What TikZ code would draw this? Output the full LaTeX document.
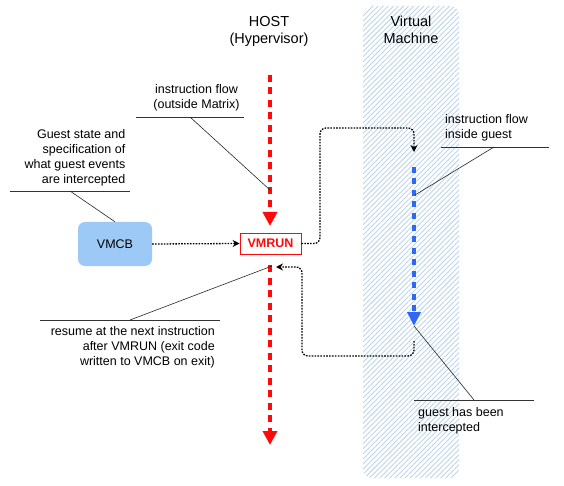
\documentclass[tikz,border=0pt]{standalone}
\usepackage{fontspec}
\setmainfont{Liberation Sans}
\usetikzlibrary{patterns.meta,arrows.meta}
\definecolor{vmhatch}{HTML}{BDD5EC}
\definecolor{vmcbfill}{HTML}{9DC9F6}
\definecolor{flowred}{HTML}{FF0A0A}
\definecolor{flowblue}{HTML}{2F68F2}
\begin{document}
\begin{tikzpicture}[x=1pt,y=-1pt,
  lbl/.style={font=\fontsize{12.5}{15}\selectfont, inner sep=0pt},
  hdr/.style={font=\fontsize{14.5}{17}\selectfont, align=center, inner sep=0pt},
  ctrl/.style={black, line width=1.3pt, dash pattern=on 1.6pt off 1.3pt, rounded corners=6pt},
  ctrltip/.style={-{Stealth[length=7pt,width=7pt]}},
  redflow/.style={flowred, line width=3.8pt, dash pattern=on 7pt off 5.5pt, -{Triangle[length=14pt,width=14pt]}},
  blueflow/.style={flowblue, line width=3.8pt, dash pattern=on 6pt off 5.5pt, -{Triangle[length=14pt,width=13pt]}},
  leader/.style={line width=0.6pt, black!85},
  uline/.style={line width=0.7pt, black!80}
]
\useasboundingbox (0,0) rectangle (564,486);
% virtual machine band
\path[pattern={Lines[angle=45,distance=3.6pt,line width=0.9pt]}, pattern color=vmhatch, rounded corners=9pt] (363,6) rectangle (459,478);
% headers
\node[hdr, anchor=north] (host) at (269,16) {HOST\\(Hypervisor)};
\node[hdr, anchor=north] (vm) at (411,16) {Virtual\\Machine};
% boxes
\node[fill=vmcbfill, rounded corners=7pt, minimum width=74pt, minimum height=44pt, lbl] (vmcb) at (115,244) {VMCB};
\node[draw=flowred, fill=white, line width=0.8pt, minimum width=61pt, minimum height=21pt, inner sep=0pt, text=flowred, font=\fontsize{12.5}{15}\selectfont\bfseries] (vmrun) at (270.5,243.5) {VMRUN};
% flows
\coordinate (rtop) at (270,75);
\coordinate (rtoptip) at (270,226);
\coordinate (rbot) at (270,265);
\coordinate (rbottip) at (270,445);
\draw[redflow] (rtop) -- (rtoptip);
\draw[redflow] (rbot) -- (rbottip);
\coordinate (ventry) at (414,152);
\coordinate (bstart) at (414,167);
\coordinate (btip) at (414,326);
\coordinate (gexit) at (414,341);
\coordinate (resume) at (276,267);
\draw[blueflow] (bstart) -- (btip);
\draw[ctrl, -{Stealth[length=7pt,width=7pt]}] (vmcb.east) -- (vmrun.west);
\draw[ctrl, ctrltip] (vmrun.east) -| (320,128) -| (ventry);
\draw[ctrl, ctrltip] (gexit) |- (302,356) |- (resume);
% labels
\node[lbl, align=center, anchor=north] (l1) at (196.5,84) {instruction flow\\(outside Matrix)};
\coordinate (l1a) at (136,117); \coordinate (l1b) at (244,117); \coordinate (l1c) at (190,117);
\draw[uline] (l1a) -- (l1b);
\draw[leader] (l1c) -- (270,190);
\node[lbl, align=right, anchor=north east] (l2) at (125.5,129) {Guest state and\\specification of\\what guest events\\are intercepted};
\coordinate (l2a) at (10,191); \coordinate (l2b) at (130,191); \coordinate (l2c) at (70,191);
\draw[uline] (l2a) -- (l2b);
\draw[leader] (l2c) -- (vmcb.north);
\node[lbl, align=left, anchor=north west] (l3) at (445,114) {instruction flow\\inside guest};
\coordinate (l3a) at (441,147); \coordinate (l3b) at (549,147); \coordinate (l3c) at (494,147);
\draw[uline] (l3a) -- (l3b);
\draw[leader] (l3c) -- (415,195);
\node[lbl, align=left, anchor=north west] (l4) at (418,407) {guest has been\\intercepted};
\coordinate (l4a) at (414,400); \coordinate (l4b) at (534,400); \coordinate (l4c) at (474,400);
\draw[uline] (l4a) -- (l4b);
\draw[leader] (l4c) -- (btip);
\node[lbl, align=right, anchor=north east] (l5) at (215,326) {resume at the next instruction\\after VMRUN (exit code\\written to VMCB on exit)};
\coordinate (l5a) at (40,320); \coordinate (l5b) at (220,320); \coordinate (l5c) at (130,320);
\draw[uline] (l5a) -- (l5b);
\draw[leader] (l5c) -- (272,266);
\end{tikzpicture}
\end{document}
